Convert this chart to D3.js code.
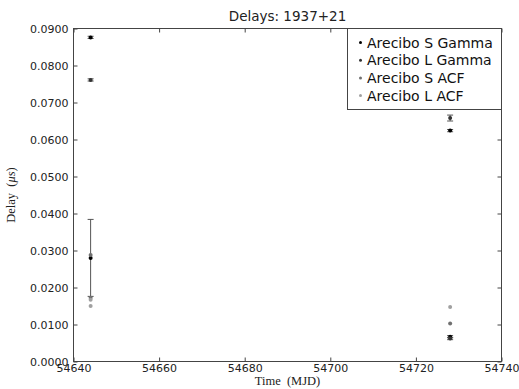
<!DOCTYPE html>
<html><head><meta charset="utf-8">
<script src="https://cdn.jsdelivr.net/npm/d3@7"></script>
<style>body{margin:0;background:#fff}svg{display:block}</style>
</head><body>
<svg id="c" width="519" height="389"></svg>
<script>
const seriesNames = ["Arecibo S Gamma","Arecibo L Gamma","Arecibo S ACF","Arecibo L ACF"];
const seriesColors = ["#000000","#333333","#707070","#a0a0a0"];
const sGammaMJD = [54644, 54644, 54728, 54728];
const sGammaDelay = [0.0876, 0.0280, 0.0624, 0.0067];
const sGammaErr = [0.0003, 0.0104, 0.0003, 0.0003];
const lGammaMJD = [54644, 54728, 54728];
const lGammaDelay = [0.0761, 0.0658, 0.0062];
const lGammaErr = [0.0003, 0.0008, 0.0003];
const sAcfMJD = [54644, 54644, 54728];
const sAcfDelay = [0.0288, 0.0172, 0.0103];
const lAcfMJD = [54644, 54644, 54728];
const lAcfDelay = [0.0167, 0.0150, 0.0147];
const xTicks = [54640, 54660, 54680, 54700, 54720, 54740];
const yTicks = [0, 0.01, 0.02, 0.03, 0.04, 0.05, 0.06, 0.07, 0.08, 0.09];

const svg = d3.select("#c");
const L = 73.5, R = 501.5, T = 28.5, B = 361.5;
const x = d3.scaleLinear().domain([54640, 54740]).range([L, R]);
const y = d3.scaleLinear().domain([0, 0.09]).range([B, T]);
const axisColor = "#444";
const font = "DejaVu Sans, sans-serif";

svg.append("rect").attr("x", L).attr("y", T).attr("width", R - L).attr("height", B - T)
  .attr("fill", "none").attr("stroke", axisColor).attr("stroke-width", 1);

function styleAxis(g){
  g.select(".domain").remove();
  g.selectAll(".tick line").attr("stroke", axisColor);
  g.selectAll(".tick text").attr("fill", "#222").style("font-family", font).style("font-size", "11px");
}
svg.append("g").attr("transform", `translate(0,${B})`)
  .call(d3.axisBottom(x).tickValues(xTicks).tickFormat(d3.format("d")).tickSizeInner(-4).tickSizeOuter(0).tickPadding(3))
  .call(styleAxis);
svg.append("g").attr("transform", `translate(0,${T})`)
  .call(d3.axisTop(x).tickValues(xTicks).tickFormat("").tickSizeInner(-4).tickSizeOuter(0))
  .call(styleAxis);
svg.append("g").attr("transform", `translate(${L},0)`)
  .call(d3.axisLeft(y).tickValues(yTicks).tickFormat(d3.format(".4f")).tickSizeInner(-4).tickSizeOuter(0).tickPadding(5))
  .call(styleAxis);
svg.append("g").attr("transform", `translate(${R},0)`)
  .call(d3.axisRight(y).tickValues(yTicks).tickFormat("").tickSizeInner(-4).tickSizeOuter(0))
  .call(styleAxis);

svg.append("text").attr("x", (L + R) / 2).attr("y", 21).attr("text-anchor", "middle")
  .style("font-family", font).style("font-size", "13.5px").attr("fill", "#222").text("Delays: 1937+21");
svg.append("text").attr("x", (L + R) / 2).attr("y", 385).attr("text-anchor", "middle")
  .style("font-family", "Liberation Serif, serif").style("font-size", "12.5px").attr("fill", "#222")
  .text("Time\u2002(MJD)");
const yl = svg.append("text").attr("transform", `translate(15,${(T + B) / 2}) rotate(-90)`).attr("text-anchor", "middle")
  .style("font-family", "Liberation Serif, serif").style("font-size", "12.5px").attr("fill", "#222");
yl.append("tspan").text("Delay\u2002(");
yl.append("tspan").style("font-style", "italic").text("\u03bcs");
yl.append("tspan").text(")");

function drawSeries(mjd, delay, err, color){
  const g = svg.append("g");
  mjd.forEach((m, i) => {
    if (err) {
      const cx = x(m), y0 = y(delay[i] - err[i]), y1 = y(delay[i] + err[i]);
      g.append("line").attr("x1", cx).attr("x2", cx).attr("y1", y0).attr("y2", y1).attr("stroke", "#555").attr("stroke-width", 1);
      [y0, y1].forEach(yy => g.append("line").attr("x1", cx - 3).attr("x2", cx + 3).attr("y1", yy).attr("y2", yy).attr("stroke", "#555").attr("stroke-width", 1));
    }
    g.append("circle").attr("cx", x(m)).attr("cy", y(delay[i])).attr("r", 2).attr("fill", color);
  });
}
drawSeries(sGammaMJD, sGammaDelay, sGammaErr, seriesColors[0]);
drawSeries(lGammaMJD, lGammaDelay, lGammaErr, seriesColors[1]);
drawSeries(sAcfMJD, sAcfDelay, null, seriesColors[2]);
drawSeries(lAcfMJD, lAcfDelay, null, seriesColors[3]);

const lg = svg.append("g");
lg.append("rect").attr("x", 347.5).attr("y", T).attr("width", R - 347.5).attr("height", 81)
  .attr("fill", "#fff").attr("stroke", axisColor);
seriesNames.forEach((n, i) => {
  const yy = T + 14 + i * 17.7;
  lg.append("circle").attr("cx", 360.5).attr("cy", yy).attr("r", 1.5).attr("fill", seriesColors[i]);
  lg.append("text").attr("x", 367).attr("y", yy).attr("dy", "0.36em")
    .style("font-family", font).style("font-size", "14px").attr("fill", "#111").text(n);
});
</script>
</body></html>
